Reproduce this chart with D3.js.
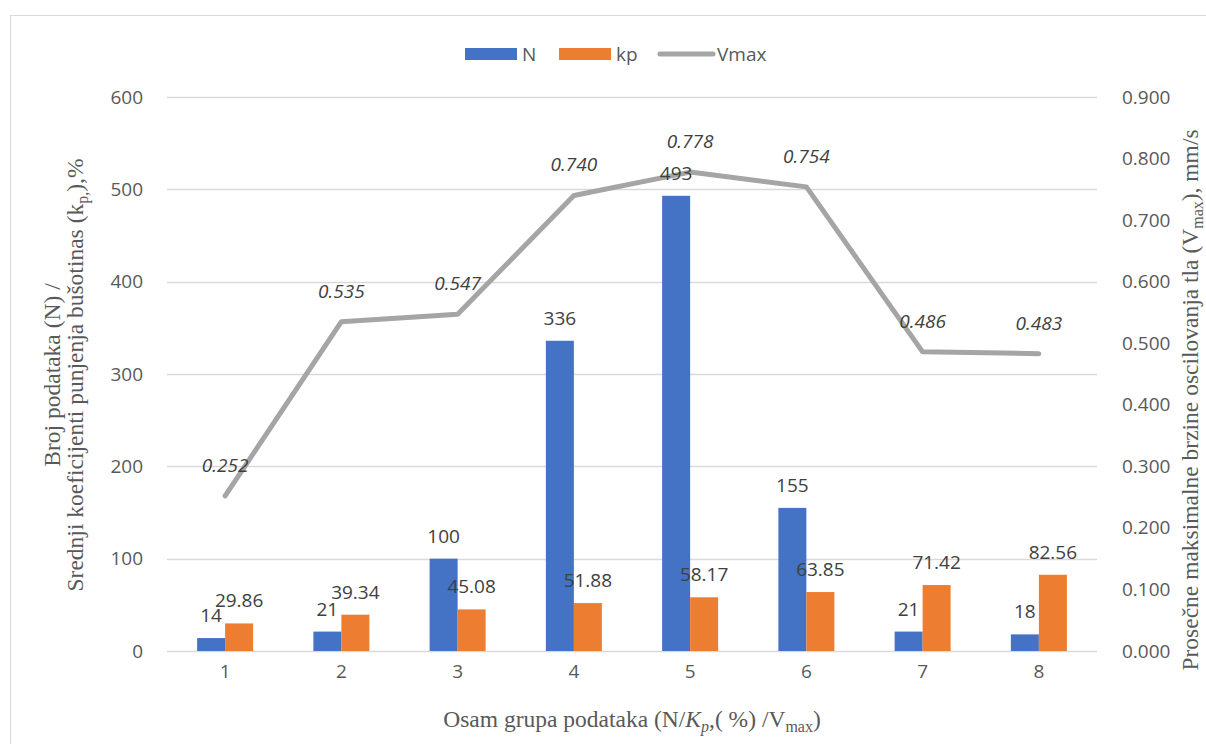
<!DOCTYPE html>
<html><head><meta charset="utf-8">
<script src="https://cdn.jsdelivr.net/npm/d3@7"></script>
<style>body{margin:0;background:#fff}</style>
</head><body><svg id="c" width="1206" height="744"></svg>
<script>
const categories = ["1","2","3","4","5","6","7","8"];
const N = [14,21,100,336,493,155,21,18];
const kp = [29.86,39.34,45.08,51.88,58.17,63.85,71.42,82.56];
const vmax = [0.252,0.535,0.547,0.740,0.778,0.754,0.486,0.483];
const leftTicks = [0,100,200,300,400,500,600];
const rightTicks = [0,0.1,0.2,0.3,0.4,0.5,0.6,0.7,0.8,0.9];

const svg = d3.select("#c");
const m={l:167,r:1097,t:97,b:651};
const sans="'Open Sans', sans-serif", serif="'Liberation Serif', serif";
const txt="#595959";
const fs=19;

svg.append("rect").attr("x",10.5).attr("y",15.5).attr("width",1300).attr("height",800)
  .attr("fill","#fff").attr("stroke","#d9d9d9");

const x=d3.scaleBand().domain(categories).range([m.l,m.r]);
const y=d3.scaleLinear().domain([0,600]).range([m.b,m.t]);
const y2=d3.scaleLinear().domain([0,0.9]).range([m.b,m.t]);

svg.append("g").selectAll("line").data(leftTicks).join("line")
  .attr("x1",m.l).attr("x2",m.r).attr("y1",d=>Math.round(y(d))+0.5).attr("y2",d=>Math.round(y(d))+0.5)
  .attr("stroke","#d9d9d9").attr("stroke-width",1.3);

const la=svg.append("g").attr("transform",`translate(${m.l},0)`)
  .call(d3.axisLeft(y).tickValues(leftTicks).tickSize(0).tickPadding(24));
la.select(".domain").remove();
la.selectAll("text").attr("font-family",sans).attr("font-size",fs).attr("fill",txt);

const ra=svg.append("g").attr("transform",`translate(${m.r},0)`)
  .call(d3.axisRight(y2).tickValues(rightTicks).tickFormat(d3.format(".3f")).tickSize(0).tickPadding(25));
ra.select(".domain").remove();
ra.selectAll("text").attr("font-family",sans).attr("font-size",fs).attr("fill",txt);

const xa=svg.append("g").attr("transform",`translate(0,${m.b})`)
  .call(d3.axisBottom(x).tickSize(0).tickPadding(14));
xa.select(".domain").remove();
xa.selectAll("text").attr("font-family",sans).attr("font-size",fs).attr("fill",txt);

const bw=28;
const g=svg.append("g");
g.selectAll(".n").data(categories).join("rect")
  .attr("x",(d)=>x(d)+x.bandwidth()/2-bw).attr("width",bw)
  .attr("y",(d,i)=>y(N[i])).attr("height",(d,i)=>y(0)-y(N[i])).attr("fill","#4472C4");
g.selectAll(".k").data(categories).join("rect")
  .attr("x",(d)=>x(d)+x.bandwidth()/2).attr("width",bw)
  .attr("y",(d,i)=>y(kp[i])).attr("height",(d,i)=>y(0)-y(kp[i])).attr("fill","#ED7D31");

const line=d3.line().x((d,i)=>x(categories[i])+x.bandwidth()/2).y(d=>y2(d));
svg.append("path").datum(vmax).attr("d",line).attr("fill","none")
  .attr("stroke","#A5A5A5").attr("stroke-width",5).attr("stroke-linecap","round").attr("stroke-linejoin","round");

svg.append("g").selectAll("text").data(categories).join("text")
  .attr("x",d=>x(d)+x.bandwidth()/2-bw/2).attr("y",(d,i)=>y(N[i])-16)
  .attr("text-anchor","middle").attr("font-family",sans).attr("font-size",fs).attr("fill","#404040")
  .text((d,i)=>N[i]);
svg.append("g").selectAll("text").data(categories).join("text")
  .attr("x",d=>x(d)+x.bandwidth()/2+bw/2).attr("y",(d,i)=>y(kp[i])-16)
  .attr("text-anchor","middle").attr("font-family",sans).attr("font-size",fs).attr("fill","#404040")
  .text((d,i)=>kp[i].toFixed(2));
svg.append("g").selectAll("text").data(categories).join("text")
  .attr("x",d=>x(d)+x.bandwidth()/2).attr("y",(d,i)=>y2(vmax[i])-24)
  .attr("text-anchor","middle").attr("font-family",sans).attr("font-size",fs).attr("font-style","italic").attr("fill","#404040")
  .text((d,i)=>vmax[i].toFixed(3));

const lg=svg.append("g").attr("font-family",sans).attr("font-size",fs).attr("fill",txt);
lg.append("rect").attr("x",465).attr("y",48).attr("width",52).attr("height",12).attr("fill","#4472C4");
lg.append("text").attr("x",522).attr("y",61).text("N");
lg.append("rect").attr("x",559).attr("y",48).attr("width",52).attr("height",12).attr("fill","#ED7D31");
lg.append("text").attr("x",616).attr("y",61).text("kp");
lg.append("line").attr("x1",660).attr("x2",713).attr("y1",54).attr("y2",54).attr("stroke","#A5A5A5").attr("stroke-width",5).attr("stroke-linecap","round");
lg.append("text").attr("x",717).attr("y",61).text("Vmax");

const tfs=23.5, sfs=16;
const tt=svg.append("text").attr("x",632).attr("y",727).attr("text-anchor","middle")
  .attr("font-family",serif).attr("font-size",tfs).attr("fill",txt);
tt.append("tspan").text("Osam grupa podataka (N/");
tt.append("tspan").attr("font-style","italic").text("K");
tt.append("tspan").attr("font-style","italic").attr("font-size",sfs).attr("dy",5).text("p");
tt.append("tspan").attr("dy",-5).text(",( %) /V");
tt.append("tspan").attr("font-size",sfs).attr("dy",5).text("max");
tt.append("tspan").attr("dy",-5).text(")");

const lt=svg.append("g").attr("transform","translate(60,375) rotate(-90)")
  .attr("font-family",serif).attr("font-size",tfs).attr("fill",txt).attr("text-anchor","middle");
lt.append("text").attr("y",0).text("Broj podataka (N) /");
const l2=lt.append("text").attr("y",23);
l2.append("tspan").text("Srednji koeficijenti punjenja bušotinas (k");
l2.append("tspan").attr("font-size",sfs).attr("dy",5).text("p,");
l2.append("tspan").attr("dy",-5).text("),%");

const rt=svg.append("text").attr("transform","translate(1198,400) rotate(-90)")
  .attr("font-family",serif).attr("font-size",tfs).attr("fill",txt).attr("text-anchor","middle");
rt.append("tspan").text("Prosečne maksimalne brzine oscilovanja tla (V");
rt.append("tspan").attr("font-size",sfs).attr("dy",5).text("max");
rt.append("tspan").attr("dy",-5).text("), mm/s");
</script></body></html>
